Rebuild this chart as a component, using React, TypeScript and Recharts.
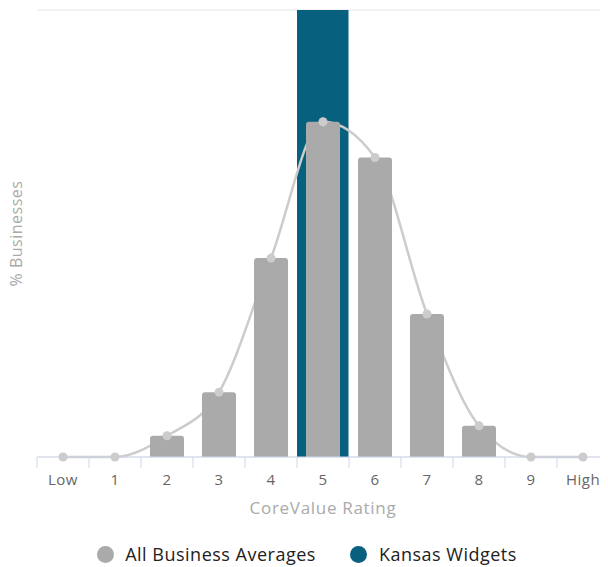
import { ComposedChart, Bar, Line, XAxis, YAxis, CartesianGrid, Legend } from "recharts";

const categories = ["Low", "1", "2", "3", "4", "5", "6", "7", "8", "9", "High"];
const averages = [0, 0, 1.9, 5.8, 17.8, 30, 26.8, 12.8, 2.8, 0, 0];
const kansas = [null, null, null, null, null, 40, null, null, null, null, null];
const yTicks = [0, 10, 20, 30, 40];

const data = categories.map((c, i) => ({ name: c, avg: averages[i], kansas: kansas[i] }));

const FONT = "'Open Sans', 'Noto Sans', sans-serif";
const BLUE = "#06607e";

const Tick = (props: any) => {
  const { x, y, payload } = props;
  const half = 26;
  return (
    <g>
      <line x1={x - half} y1={y - 8} x2={x - half} y2={y + 3} stroke="#ccd6eb" />
      <text x={x} y={y + 20} textAnchor="middle" fill="#666" fontSize={15} letterSpacing={0.5} fontFamily={FONT}>
        {payload.value}
      </text>
    </g>
  );
};

const LegendContent = () => (
  <div style={{ display: "flex", justifyContent: "center", alignItems: "center", fontFamily: FONT, fontSize: 18, letterSpacing: 0.5, color: "#222", paddingLeft: 5, paddingTop: 15 }}>
    <span style={{ display: "inline-block", width: 17, height: 17, borderRadius: 9, background: "#aaaaaa", marginRight: 11 }} />
    <span style={{ marginRight: 34 }}>All Business Averages</span>
    <span style={{ display: "inline-block", width: 17, height: 17, borderRadius: 9, background: BLUE, marginRight: 12 }} />
    <span>Kansas Widgets</span>
  </div>
);

export default function App() {
  return (
    <div style={{ margin: "-8px 0 0 -8px", width: 609, height: 567 }}>
      <ComposedChart
        width={609}
        height={567}
        data={data}
        barCategoryGap={0}
        barGap={0}
        margin={{ top: 10, right: 0, bottom: 0, left: 0 }}
      >
        <CartesianGrid vertical={false} stroke="#e6e6e6" />
        <XAxis
          xAxisId="main"
          dataKey="name"
          height={70}
          stroke="#ccd6eb"
          tickLine={false}
          tick={<Tick />}
          interval={0}
          label={{ value: "CoreValue Rating", position: "insideTop", offset: 45, fill: "#aaa", fontSize: 17, letterSpacing: 0.7, fontFamily: FONT }}
        />
        <XAxis xAxisId="k" dataKey="name" hide height={0} />
        <YAxis
          width={37}
          domain={[0, 40]}
          ticks={yTicks}
          axisLine={false}
          tickLine={false}
          tick={false}
          label={{ value: "% Businesses", angle: -90, position: "center", dx: -2, fill: "#aaa", fontSize: 16, letterSpacing: 0.5, fontFamily: FONT }}
        />
        <Legend verticalAlign="bottom" height={40} content={<LegendContent />} />
        <Bar xAxisId="k" dataKey="kansas" name="Kansas Widgets" fill={BLUE} barSize={51.5} zIndex={200} isAnimationActive={false} />
        <Line
          xAxisId="main"
          type="monotone"
          dataKey="avg"
          stroke="#cccccc"
          strokeWidth={2.5}
          dot={{ r: 4.5, fill: "#cccccc", stroke: "none" }}
          activeDot={false}
          zIndex={250}
          isAnimationActive={false}
        />
        <Bar xAxisId="main" dataKey="avg" name="All Business Averages" fill="#aaaaaa" barSize={34} radius={[3, 3, 0, 0]} zIndex={300} isAnimationActive={false} />
      </ComposedChart>
    </div>
  );
}
